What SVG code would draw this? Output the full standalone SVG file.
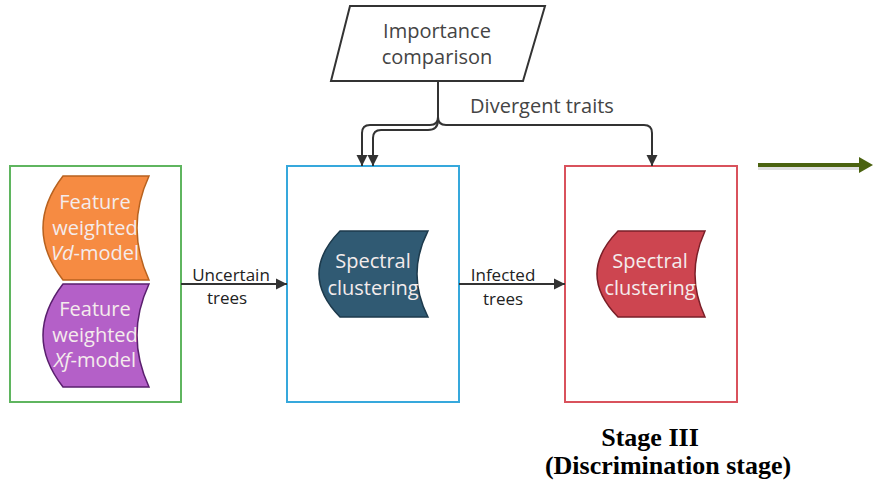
<svg xmlns="http://www.w3.org/2000/svg" width="873" height="482" viewBox="0 0 873 482">
<defs>
<marker id="ah" viewBox="0 0 10 10" refX="10" refY="5" markerWidth="11" markerHeight="12" markerUnits="userSpaceOnUse" orient="auto">
<path d="M0,0 L10,5 L0,10 z" fill="#333"/>
</marker>
</defs>
<style>
.box{fill:#fff;stroke-width:2}
.conn{fill:none;stroke:#333;stroke-width:2}
.st{font-family:"Open Sans","Noto Sans",sans-serif;font-size:20px;fill:#f4ecec;text-anchor:middle}
.lbl{font-family:"Open Sans","Noto Sans",sans-serif;font-size:17px;fill:#222;text-anchor:middle}
.imp{font-family:"Open Sans","Noto Sans",sans-serif;font-size:20px;fill:#444;text-anchor:middle}
.stage{font-family:"Liberation Serif","Times New Roman",serif;font-size:26px;font-weight:bold;fill:#000;text-anchor:middle}
</style>
<rect width="873" height="482" fill="#fff"/>

<g id="stage1">
<rect class="box" x="10" y="166" width="171" height="236" stroke="#5fb55f"/>
</g>
<g id="vd-model">
<path d="M63,176 H149 Q125,228 149,280 H63 Q23,228 63,176 Z" fill="#f68b42" stroke="#b8621f" stroke-width="1.5"/>
<text class="st" x="95" y="209">Feature</text>
<text class="st" x="95" y="235">weighted</text>
<text class="st" x="95" y="260"><tspan font-style="italic">Vd</tspan>-model</text>
</g>
<g id="xf-model">
<path d="M63,284 H149 Q125,335.5 149,387 H63 Q23,335.5 63,284 Z" fill="#b460c8" stroke="#5a1f6e" stroke-width="1.5"/>
<text class="st" x="95" y="316">Feature</text>
<text class="st" x="95" y="342">weighted</text>
<text class="st" x="95" y="367"><tspan font-style="italic">Xf</tspan>-model</text>
</g>

<g id="stage2">
<rect class="box" x="287" y="166" width="172" height="236" stroke="#36a8dc"/>
</g>
<g id="spectral-blue">
<path d="M340,231 H428 Q406,274 428,317 H340 Q298,274 340,231 Z" fill="#305a73" stroke="#1d3a4c" stroke-width="1.5"/>
<text class="st" x="373" y="268">Spectral</text>
<text class="st" x="373" y="295">clustering</text>
</g>

<g id="stage3">
<rect class="box" x="565" y="166" width="172" height="236" stroke="#d9525c"/>
</g>
<g id="spectral-red">
<path d="M618,231 H705 Q685,274 705,317 H618 Q576,274 618,231 Z" fill="#cd4550" stroke="#7a1f28" stroke-width="1.5"/>
<text class="st" x="650" y="268">Spectral</text>
<text class="st" x="650" y="295">clustering</text>
</g>

<g id="importance">
<path d="M350,6 H545 L523,81 H331 Z" fill="#fff" stroke="#333" stroke-width="2"/>
<text class="imp" x="437" y="38">Importance</text>
<text class="imp" x="437" y="64">comparison</text>
</g>

<g id="connectors">
<path class="conn" d="M438,81 V117 Q438,125 430,125 H370 Q362,125 362,133 V166" marker-end="url(#ah)"/>
<path class="conn" d="M438,81 V120 Q438,130 428,130 H381 Q373,130 373,138 V166" marker-end="url(#ah)"/>
<path class="conn" d="M438,81 V117 Q438,125 446,125 H644 Q652,125 652,133 V166" marker-end="url(#ah)"/>
<path class="conn" d="M181,284 H287" marker-end="url(#ah)"/>
<path class="conn" d="M459,284 H565" marker-end="url(#ah)"/>
<line x1="758" y1="168" x2="862" y2="168" stroke="#000" stroke-opacity="0.12" stroke-width="4"/>
<line x1="758" y1="165" x2="862" y2="165" stroke="#4b6310" stroke-width="4"/>
<path d="M859,157 L873,165 L859,173 Z" fill="#4b6310"/>
</g>

<g id="labels">
<text class="imp" x="542" y="113">Divergent traits</text>
<text class="lbl" x="231" y="281">Uncertain</text>
<text class="lbl" x="227" y="304">trees</text>
<text class="lbl" x="503" y="281">Infected</text>
<text class="lbl" x="503" y="305">trees</text>
</g>

<g id="stage-title">
<text class="stage" x="650" y="446">Stage III</text>
<text class="stage" x="668" y="474">(Discrimination stage)</text>
</g>
</svg>
